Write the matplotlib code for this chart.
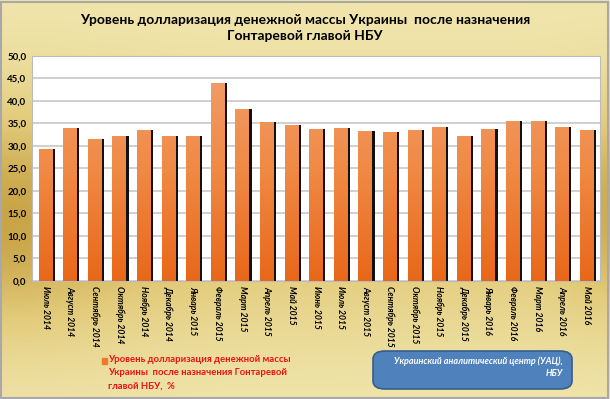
import numpy as np
import matplotlib
matplotlib.use('Agg')
import matplotlib.pyplot as plt
from matplotlib.patches import FancyBboxPatch, Rectangle
from matplotlib.colors import LinearSegmentedColormap

# данные
meses = ['Июль 2014', 'Август 2014', 'Сентябрь 2014', 'Октябрь 2014', 'Ноябрь 2014',
         'Декабрь 2014', 'Январь 2015', 'Февраль 2015', 'Март 2015', 'Апрель 2015',
         'Май 2015', 'Июнь 2015', 'Июль 2015', 'Август 2015', 'Сентябрь 2015',
         'Октябрь 2015', 'Ноябрь 2015', 'Декабрь 2015', 'Январь 2016', 'Февраль 2016',
         'Март 2016', 'Апрель 2016', 'Май 2016']
valores = [29.3, 33.9, 31.6, 32.2, 33.6, 32.1, 32.3, 44.0, 38.3, 35.3, 34.6, 33.8,
           33.9, 33.4, 33.0, 33.6, 34.3, 32.1, 33.8, 35.5, 35.5, 34.3, 33.6]
yticks = np.arange(0, 50.1, 5)

titulo = 'Уровень долларизация денежной массы Украины  после назначения\nГонтаревой главой НБУ'
leyenda = 'Уровень долларизация денежной массы\nУкраины  после назначения Гонтаревой\nглавой НБУ,  %'
fuente = 'Украинский аналитический центр (УАЦ),\nНБУ'

plt.rcParams['font.family'] = ['Lato', 'DejaVu Sans']

fig = plt.figure(figsize=(6.10, 3.99), dpi=100)

# fondo dorado con degradado
bg = fig.add_axes([0, 0, 1, 1], zorder=-10)
yy, xx = np.mgrid[0:1:200j, 0:1:300j]
t = np.exp(-((yy - 0.55) / 0.3) ** 2) * (0.55 + 0.45 * np.exp(-(xx / 0.25) ** 2)) \
    + 0.35 * np.exp(-((yy - 0.5) / 0.25) ** 2) * np.exp(-((1 - xx) / 0.08) ** 2)
cmap_bg = LinearSegmentedColormap.from_list('oro', ['#F1E6AE', '#E2CB7A', '#C9A548'])
bg.imshow(t, cmap=cmap_bg, extent=[0, 1, 0, 1], aspect='auto', vmin=0, vmax=1, origin='upper')
bg.add_patch(Rectangle((0.002, 0.003), 0.994, 0.992, fill=False, ec='#A8A8A8', lw=1.5,
                       transform=bg.transAxes))
bg.set_axis_off()

ax = fig.add_axes([0.0525, 0.296, 0.9315, 0.564])
ax.set_facecolor('white')
x = np.arange(len(valores))
ancho = 0.56

# sombra
ax.bar(x + 0.1, valores, width=ancho, color='#111111', zorder=2)
barras = ax.bar(x, valores, width=ancho, color='#EC7A30', zorder=3)

# degradado en cada barra
cmap_bar = LinearSegmentedColormap.from_list('nar', ['#E8681A', '#F08A45', '#F0A070'])
grad = np.linspace(0, 1, 100).reshape(-1, 1)
for b in barras:
    im = ax.imshow(grad, cmap=cmap_bar, origin='lower', aspect='auto',
                   extent=[b.get_x(), b.get_x() + b.get_width(), 0, 50], zorder=3.5)
    im.set_clip_path(b)

ax.set_xlim(-0.55, len(valores) - 0.45)
ax.set_ylim(0, 50)
ax.set_yticks(yticks)
ax.set_yticklabels([('%.1f' % v).replace('.', ',') for v in yticks],
                   fontsize=7, fontweight='bold')
ax.set_xticks(x)
ax.set_xticklabels(meses, rotation=270, fontsize=6.2, fontweight='bold', style='italic')
ax.tick_params(length=0, pad=4)
ax.yaxis.grid(True, color='#C8C8C8', lw=1.2, zorder=0)
ax.set_axisbelow(True)
for s in ax.spines.values():
    s.set_color('#BBBBBB')

fig.text(0.5, 1 - 27.5 / 399, titulo, ha='center', va='center', fontsize=10,
         fontweight='bold', linespacing=1.4)

# leyenda
fig.patches.append(Rectangle((102 / 610, 1 - 364 / 399), 5 / 610, 6 / 399,
                             color='#EC7A30', transform=fig.transFigure))
fig.text(108 / 610, 1 - 355 / 399, leyenda, ha='left', va='top', color='#EE1010',
         fontsize=6.8, fontweight='bold', linespacing=1.6)

# cuadro de fuente
caja = FancyBboxPatch((373 / 610, 1 - 389 / 399), 199 / 610, 38 / 399,
                      boxstyle='round,pad=0,rounding_size=0.02', transform=fig.transFigure,
                      fc='#4F81BD', ec='#385D8A', lw=1.2)
fig.patches.append(caja)
fig.text(563 / 610, 1 - 367 / 399, fuente, ha='right', va='center', color='white',
         fontsize=6.5, fontweight='bold', style='italic', linespacing=1.4)

fig.savefig('out.png', dpi=100)
